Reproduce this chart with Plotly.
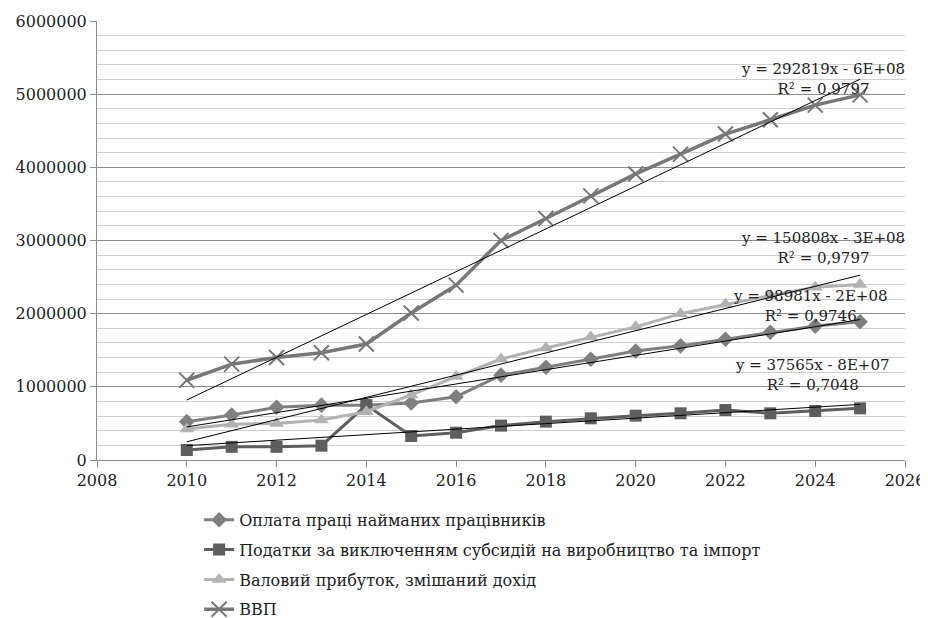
import numpy as np
import plotly.graph_objects as go

years = list(range(2010, 2026))

wages = [524000, 615000, 720000, 750000, 750000, 780000, 865000, 1160000, 1267000,
         1376000, 1490000, 1560000, 1650000, 1745000, 1830000, 1890000]
taxes = [137000, 180000, 180000, 196000, 750000, 328000, 373000, 470000, 524000,
         570000, 606000, 638000, 683000, 638000, 670000, 706000]
profit = [425000, 490000, 500000, 547000, 660000, 890000, 1140000, 1380000, 1530000,
          1680000, 1820000, 2000000, 2130000, 2250000, 2360000, 2400000]
gdp = [1090000, 1310000, 1400000, 1466000, 1585000, 2010000, 2390000, 3000000, 3300000,
       3610000, 3910000, 4180000, 4455000, 4650000, 4850000, 4990000]

names = ["Оплата праці найманих працівників",
         "Податки за виключенням субсидій на виробництво та імпорт",
         "Валовий прибуток, змішаний дохід",
         "ВВП"]

trend_labels = {
    "gdp": "y = 292819x - 6E+08<br>R² = 0,9797",
    "profit": "y = 150808x - 3E+08<br>R² = 0,9797",
    "wages": "y = 98981x - 2E+08<br>R² = 0,9746",
    "taxes": "y = 37565x - 8E+07<br>R² = 0,7048",
}
label_pos = {  # (x, y) in data units for label centers
    "gdp": (2024.17, 5210000),
    "profit": (2024.17, 2900000),
    "wages": (2023.9, 2105000),
    "taxes": (2023.95, 1160000),
}

FONT = "DejaVu Serif"

fig = go.Figure()
fig.add_trace(go.Scatter(x=years, y=wages, name=names[0], mode="lines+markers",
                         line=dict(color="#7f7f7f", width=3),
                         marker=dict(symbol="diamond", size=12, color="#7f7f7f"),
                         legendgroup="a"))
fig.add_trace(go.Scatter(x=years, y=taxes, name=names[1], mode="lines+markers",
                         line=dict(color="#5e5e5e", width=3),
                         marker=dict(symbol="square", size=12, color="#5e5e5e"),
                         legendgroup="b"))
fig.add_trace(go.Scatter(x=years, y=profit, name=names[2], mode="lines+markers",
                         line=dict(color="#b2b2b2", width=3),
                         marker=dict(symbol="triangle-up", size=13, color="#b2b2b2"),
                         legendgroup="c"))
fig.add_trace(go.Scatter(x=years, y=gdp, name=names[3], mode="lines+markers",
                         line=dict(color="#777777", width=3.5),
                         marker=dict(symbol="x-thin-open", size=15,
                                     line=dict(color="#777777", width=2)),
                         legendgroup="d"))

for key, data in [("wages", wages), ("taxes", taxes), ("profit", profit), ("gdp", gdp)]:
    k, b = np.polyfit(years, data, 1)
    xs = [years[0], years[-1]]
    fig.add_trace(go.Scatter(x=xs, y=[k * xs[0] + b, k * xs[1] + b], mode="lines",
                             line=dict(color="black", width=1), showlegend=False,
                             hoverinfo="skip"))
    lx, ly = label_pos[key]
    fig.add_annotation(x=lx, y=ly, xref="x", yref="y", text=trend_labels[key],
                       showarrow=False, align="center",
                       font=dict(family=FONT, size=15, color="#222222"))

fig.update_layout(
    width=920, height=610,
    margin=dict(l=89, r=23, t=13, b=5, autoexpand=False),
    paper_bgcolor="white", plot_bgcolor="white",
    font=dict(family=FONT, size=16, color="#222222"),
    showlegend=True,
    legend=dict(x=0.1264, y=0.186, xanchor="left", yanchor="top",
                font=dict(family=FONT, size=16, color="#222222"),
                tracegroupgap=6, bgcolor="rgba(0,0,0,0)"),
)
fig.update_xaxes(range=[2008, 2026], dtick=2, tick0=2008, showgrid=False,
                 showline=True, linecolor="#8c8c8c", linewidth=1,
                 ticks="outside", ticklen=6, tickcolor="#8c8c8c",
                 tickfont=dict(family=FONT, size=16, color="#222222"), zeroline=False)
fig.update_yaxes(range=[0, 6000000], dtick=1000000, tickformat="d",
                 domain=[153 / 592, 1],
                 showgrid=True, gridcolor="#8c8c8c", gridwidth=1,
                 minor=dict(dtick=200000, showgrid=True, gridcolor="#cfcfcf", gridwidth=1),
                 showline=True, linecolor="#8c8c8c", linewidth=1,
                 ticks="outside", ticklen=6, tickcolor="#8c8c8c",
                 tickfont=dict(family=FONT, size=16, color="#222222"), zeroline=False)

fig.write_html("out.html")
